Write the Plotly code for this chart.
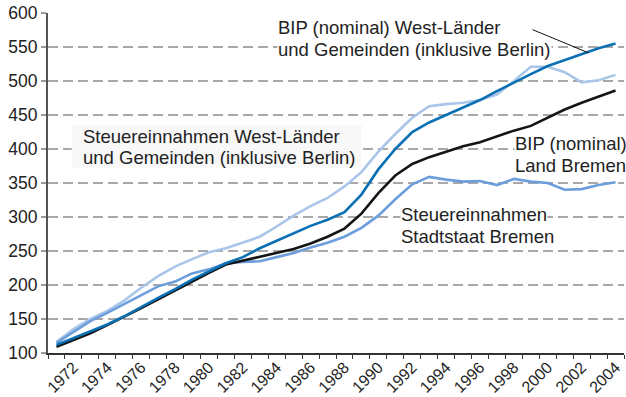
import plotly.graph_objects as go

# Index values (1970 = 100 basis, nominal) per year
years = list(range(1971, 2005))

bip_west = [112, 122, 131, 142, 154, 168, 181, 194, 208, 220, 232, 241, 254, 265,
            276, 287, 296, 307, 333, 370, 400, 425, 439, 450, 461, 472, 485, 498,
            510, 522, 531, 540, 548, 555]

bip_bremen = [109, 119, 129, 141, 153, 166, 179, 192, 206, 218, 230, 236, 241, 248,
              253, 261, 271, 283, 305, 335, 361, 378, 388, 396, 404, 410, 419, 427,
              434, 446, 458, 468, 477, 486]

steuer_west = [116, 135, 150, 162, 177, 196, 213, 227, 238, 248, 254, 262, 271, 286,
               302, 316, 328, 345, 366, 396, 422, 446, 463, 466, 468, 472, 480, 500,
               521, 521, 513, 498, 501, 509]

steuer_bremen = [115, 131, 147, 159, 172, 185, 198, 205, 217, 223, 232, 234, 235, 241,
                 247, 255, 262, 271, 284, 302, 326, 348, 359, 355, 352, 353, 347, 356,
                 352, 350, 340, 341, 347, 351]

year_ticks = list(range(1972, 2005, 2))
y_ticks = list(range(100, 601, 50))

FONT = "Liberation Sans, Arial, Helvetica, sans-serif"
TEXT = "#222222"

fig = go.Figure()

series = [
    (steuer_west, "#a9c6ea", "Steuereinnahmen West-Länder und Gemeinden"),
    (steuer_bremen, "#6b9edb", "Steuereinnahmen Stadtstaat Bremen"),
    (bip_bremen, "#151515", "BIP (nominal) Land Bremen"),
    (bip_west, "#0a70b3", "BIP (nominal) West-Länder und Gemeinden"),
]
for vals, color, name in series:
    fig.add_trace(go.Scatter(x=years, y=vals, mode="lines", name=name,
                             line=dict(color=color, width=2.6),
                             hoverinfo="skip"))

# light box behind the West-Länder tax label
fig.add_shape(type="rect", xref="x", yref="y", layer="between",
              x0=1971.9, x1=1989.0, y0=372.5, y1=435.5,
              fillcolor="#f8f8f8", line=dict(width=0))

# leader line for the West-Länder BIP label
fig.add_shape(type="line", xref="x", yref="y", layer="above",
              x0=1999.1, y0=575.5, x1=2002.4, y1=541.5,
              line=dict(color="#111111", width=1))

labels = [
    ("BIP (nominal) West-Länder", 1984.0, 578.4, "white"),
    ("und Gemeinden (inklusive Berlin)", 1984.0, 546.8, "white"),
    ("Steuereinnahmen West-Länder", 1972.5, 419.1, None),
    ("und Gemeinden (inklusive Berlin)", 1972.5, 386.8, None),
    ("BIP (nominal)", 1998.0, 407.8, "white"),
    ("Land Bremen", 1998.0, 375.4, "white"),
    ("Steuereinnahmen", 1991.3, 303.8, "white"),
    ("Stadtstaat Bremen", 1991.3, 272.0, "white"),
]
for text, x, y, bg in labels:
    fig.add_annotation(text=text, x=x, y=y, xref="x", yref="y",
                       xanchor="left", yanchor="middle", showarrow=False,
                       font=dict(family=FONT, size=18.5, color=TEXT),
                       bgcolor=bg if bg else "rgba(0,0,0,0)", borderpad=0)

fig.update_layout(
    width=626, height=397,
    margin=dict(l=48, r=2, t=13, b=44),
    paper_bgcolor="white", plot_bgcolor="white",
    showlegend=False,
    font=dict(family=FONT, size=17.5, color=TEXT),
)

fig.update_xaxes(
    range=[1970.5, 2004.5], automargin=False,
    tickmode="array", tickvals=year_ticks, ticktext=[str(y) for y in year_ticks],
    tickangle=-45, ticks="", ticklabelstandoff=-3,
    tickfont=dict(family=FONT, size=16, color=TEXT),
    showgrid=False, zeroline=False,
    showline=True, linecolor="#333333", linewidth=1.5,
    minor=dict(tickmode="linear", tick0=1970.5, dtick=1, ticks="outside",
               ticklen=4, tickwidth=1, tickcolor="#333333", showgrid=False),
)

fig.update_yaxes(
    range=[100, 600], automargin=False,
    tickmode="array", tickvals=y_ticks,
    ticks="outside", ticklen=5, tickcolor="#9a9a9a", tickwidth=1.5,
    tickfont=dict(family=FONT, size=17.5, color=TEXT),
    showgrid=True, gridcolor="#a8a8a8", gridwidth=1.5, griddash="10px,5px",
    zeroline=False,
    showline=True, linecolor="#555555", linewidth=2,
)

fig.write_html("out.html")
